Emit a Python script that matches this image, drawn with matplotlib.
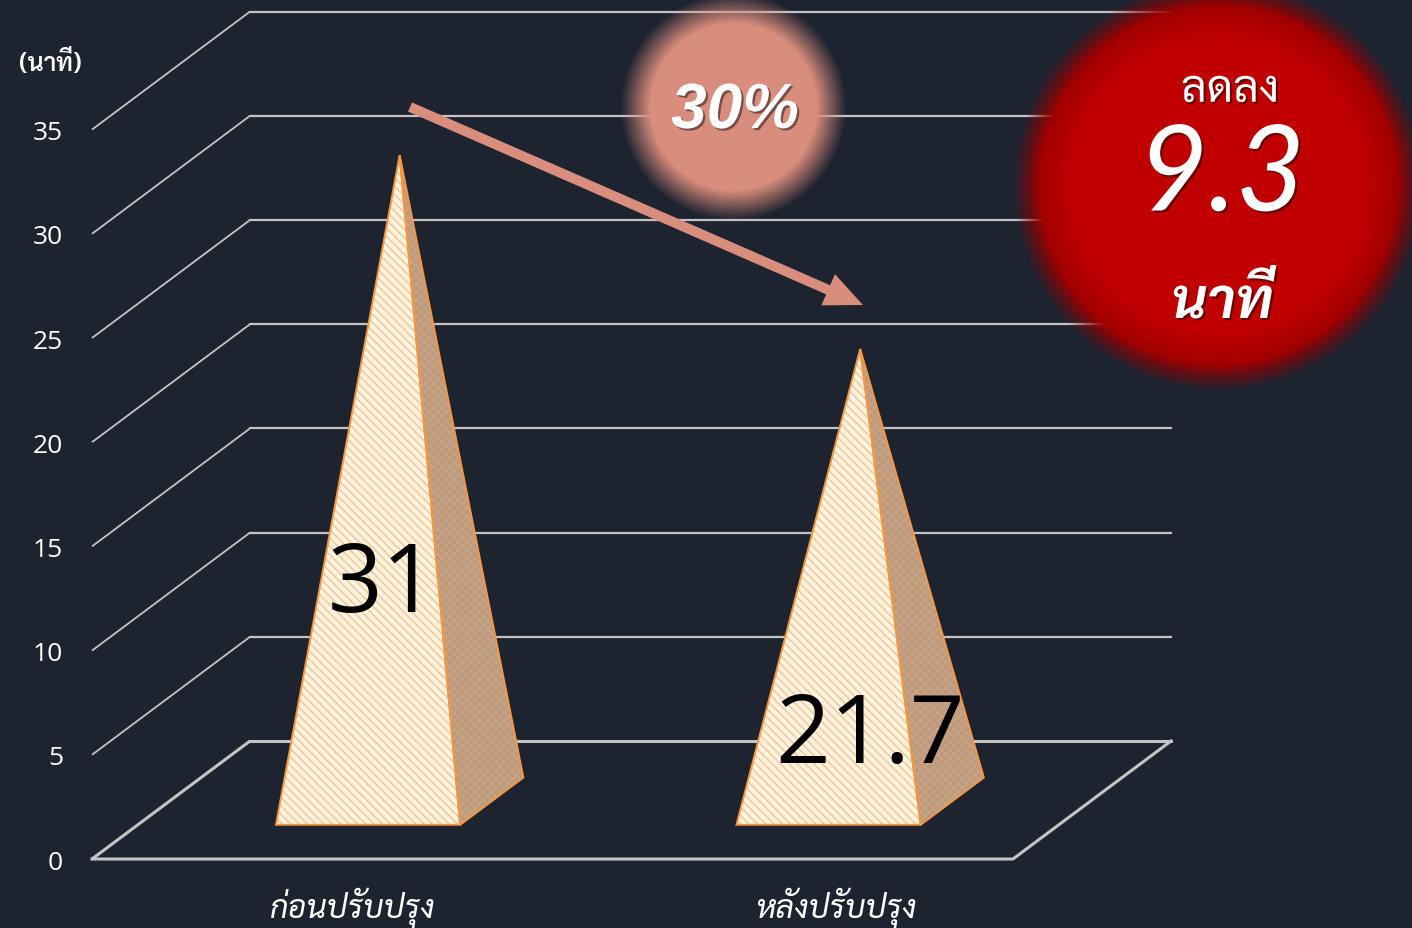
import numpy as np
import matplotlib
matplotlib.use("Agg")
import matplotlib.pyplot as plt
from matplotlib.patches import Polygon, FancyArrow
import matplotlib.patheffects as pe

# data
categories = ["ก่อนปรับปรุง", "หลังปรับปรุง"]
minutes = [31, 21.7]
yticks = [0, 5, 10, 15, 20, 25, 30, 35]
unit_label = "(นาที)"
pct_label = "30%"
drop_word = "ลดลง"
drop_value = "9.3"
drop_unit = "นาที"

BG = "#1E2330"
GRID = "#C4C4C4"
EDGE = "#F39744"
SALMON = "#D98D7D"
RED = np.array([192, 0, 0]) / 255
THAI = ["Sarabun", "Noto Sans Thai", "DejaVu Sans"]
NUM = ["Open Sans", "DejaVu Sans"]

plt.rcParams["hatch.linewidth"] = 1.0

W, H = 1412, 929
fig = plt.figure(figsize=(W / 100, H / 100), dpi=100, facecolor=BG)
ax = fig.add_axes([0, 0, 1, 1])
ax.set_facecolor(BG)
ax.axis("off")

# front wall: x 0..2 over 921 px, value 0..35 over 729 px
pxx, pxy = 460.5, 20.84
x0_px, y0_px = 92, 860
ax.set_xlim(-x0_px / pxx, (W - x0_px) / pxx)
ax.set_ylim(-(H - y0_px) / pxy, y0_px / pxy)
DX, DY = 158 / pxx, 118 / pxy   # full depth shift


def proj(x, v, d):
    return x + d * DX, v + d * DY


# walls and grid
for v in yticks:
    a, b, c = proj(0, v, 0), proj(0, v, 1), proj(2, v, 1)
    ax.plot([a[0], b[0]], [a[1], b[1]], color=GRID, lw=1.3 if v else 2.2,
            solid_capstyle="butt")
    ax.plot([b[0], c[0]], [b[1], c[1]], color=GRID, lw=1.6 if v else 2.2)
    ax.text(-0.063, v - 0.15, str(v), ha="right", va="center", color="white",
            fontsize=19, family=NUM)
f1, f2, f3 = proj(0, 0, 0), proj(2, 0, 0), proj(2, 0, 1)
ax.plot([f1[0], f2[0], f3[0]], [f1[1], f2[1], f3[1]], color=GRID, lw=2.2)

# pyramids
half_w, d_front, d_back = 0.2, 0.29, 0.69
d_mid = (d_front + d_back) / 2
label_off = [(0.13, 13.1), (0.19, 5.85)]
cat_off = [0.065, 0.116]
for i, (cat, val) in enumerate(zip(categories, minutes)):
    xc = i + 0.5
    fl = proj(xc - half_w, 0, d_front)
    fr = proj(xc + half_w, 0, d_front)
    br = proj(xc + half_w, 0, d_back)
    top = proj(xc, val, d_mid)
    side = [fr, br, top]
    front = [fl, fr, top]
    ax.add_patch(Polygon(side, closed=True, facecolor="#B49C8A",
                         edgecolor="#D4A172", lw=0, hatch="xxxx", zorder=3))
    ax.add_patch(Polygon(front, closed=True, facecolor="#FFF3E2",
                         edgecolor="#F9C28C", lw=0, hatch="\\\\\\\\", zorder=3))
    for face in (side, front):
        ax.add_patch(Polygon(face, closed=True, fill=False, edgecolor=EDGE,
                             lw=1.4, joinstyle="miter", zorder=4))
    ax.text(xc + label_off[i][0], label_off[i][1], f"{val:g}", ha="center",
            va="center", fontsize=69, family=NUM, color="black", zorder=5)
    ax.text(xc + cat_off[i], -2.3, cat, ha="center", va="center",
            fontsize=23, family=THAI, style="italic", color="white")

# decorations in pixel space
deco = fig.add_axes([0, 0, 1, 1])
deco.patch.set_alpha(0)
deco.axis("off")


def soft_disc(cx, cy, r, soft, rgb, rim=0.0):
    n = int(2 * (r + soft)) + 2
    g = np.arange(n) - n / 2
    xx, yy = np.meshgrid(g, g)
    dist = np.hypot(xx, yy)
    alpha = np.clip((r - dist) / soft + 0.5, 0, 1)
    shade = 1 - rim * (1 - np.clip((r - dist) / 45, 0, 1))
    img = np.zeros((n, n, 4))
    img[..., :3] = np.asarray(rgb)[None, None, :] * shade[..., None]
    img[..., 3] = alpha
    deco.imshow(img, extent=(cx - n / 2, cx + n / 2, cy + n / 2, cy - n / 2),
                origin="upper", aspect="auto", interpolation="bilinear")


soft_disc(733, 108, 98, 30, np.array([217, 141, 125]) / 255)
soft_disc(1218, 186, 192, 26, RED, rim=0.22)
deco.set_xlim(0, W)
deco.set_ylim(H, 0)

deco.add_patch(FancyArrow(410, 108, 453, 198, width=10, head_width=34,
                          head_length=38, length_includes_head=True,
                          color=SALMON, lw=0))

shadow = [pe.SimplePatchShadow(offset=(1.5, -1.5), shadow_rgbFace="black",
                               alpha=0.45), pe.Normal()]
deco.text(735, 112, pct_label, ha="center", va="center", color="white",
          fontsize=46, family="Liberation Sans", weight="bold", style="italic",
          path_effects=shadow)
deco.text(1230, 91, drop_word, ha="center", va="center", color="white",
          fontsize=32, family=THAI, path_effects=shadow)
deco.text(1222, 178, drop_value, ha="center", va="center", color="white",
          fontsize=86, family=["Lato", "DejaVu Sans"], style="italic",
          path_effects=shadow)
deco.text(1222, 305, drop_unit, ha="center", va="center", color="white",
          fontsize=40, family=THAI, weight="bold", style="italic",
          path_effects=shadow)
deco.text(50, 64, unit_label, ha="center", va="center", color="white",
          fontsize=18, family=THAI, weight="semibold")

fig.savefig("out.png", dpi=100, facecolor=BG)
